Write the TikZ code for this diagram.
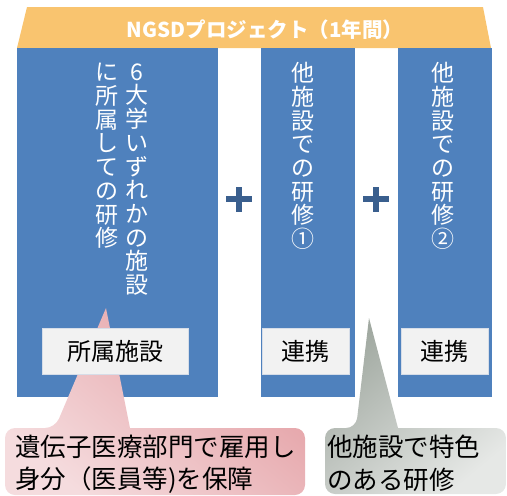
\documentclass[tikz,border=0pt]{standalone}
\usepackage{fontspec}
\setmainfont{Noto Sans CJK JP}
\definecolor{orangeT}{HTML}{F9C46F}
\definecolor{blueB}{HTML}{4F81BD}
\definecolor{plusB}{HTML}{3A5F8E}
\definecolor{lblF}{HTML}{F2F2F2}
\definecolor{lblD}{HTML}{D6DDE8}
\definecolor{pinkL}{HTML}{F5DCDE}
\definecolor{pinkD}{HTML}{E39CA1}
\definecolor{grayD}{HTML}{A1A9A1}
\definecolor{grayL}{HTML}{E6E8E6}
\tikzset{
  vtext/.style={align=center, text=white, inner sep=0pt, font=\fontsize{23}{23.7}\selectfont},
  lbl/.style={fill=lblF, draw=lblD, line width=1pt, inner sep=0pt, font=\fontsize{24}{28}\selectfont},
  ctext/.style={anchor=west, inner sep=0pt, font=\fontsize{25.5}{30}\selectfont},
  titletext/.style={text=white, inner sep=0pt, font=\bfseries\fontsize{20.5}{25}\selectfont},
  bluebox/.style={fill=blueB},
  plussign/.style={fill=plusB}
}
\begin{document}
\begin{tikzpicture}[x=1pt,y=-1pt]
\useasboundingbox (0,0) rectangle (507,496);
% top band
\fill[orangeT] (27,7) -- (483,7) -- (491,48) -- (17,48) -- cycle;
\node[titletext] (title) at (265,30) {NGSDプロジェクト（1年間）};
% blue columns
\path[bluebox] (17,48) rectangle (218,397);
\path[bluebox] (261,48) rectangle (355,397);
\path[bluebox] (398,48) rectangle (492,397);
% vertical texts
\node[vtext] (v1a) at (137,179.5) {6\\大\\学\\い\\ず\\れ\\か\\の\\施\\設};
\node[vtext] (v1b) at (107,156) {に\\所\\属\\し\\て\\の\\研\\修};
\node[vtext] (v2) at (303,156) {他\\施\\設\\で\\の\\研\\修\\①};
\node[vtext] (v3) at (443,156) {他\\施\\設\\で\\の\\研\\修\\②};
% plus signs
\path[plussign] (226,196) rectangle (252,202);
\path[plussign] (236,187) rectangle (242,212);
\path[plussign] (363,196) rectangle (389,202);
\path[plussign] (373,187) rectangle (379,212);
% pink callout
\shade[top color=pinkD, bottom color=pinkL, shading angle=-40]
  (5,461) [rounded corners=10pt] -- (5,428) -- (55,428) [sharp corners] -- (106,308) -- (130,428)
  [rounded corners=10pt] -- (305,428) -- (305,495) -- (5,495) -- cycle;
% gray callout
\shade[top color=grayD, bottom color=grayL, shading angle=40]
  (325,461) [rounded corners=10pt] -- (325,428) -- (356,428) [sharp corners] -- (369,318) -- (398,428)
  [rounded corners=10pt] -- (506,428) -- (506,494) -- (325,494) -- cycle;
% label boxes
\node[lbl, minimum width=146, minimum height=46] (l1) at (115,351) {所属施設};
\node[lbl, minimum width=87, minimum height=46] (l2) at (305.5,351) {連携};
\node[lbl, minimum width=87, minimum height=46] (l3) at (444.5,351) {連携};
% callout texts
\node[ctext] (p1) at (15,447) {遺伝子医療部門で雇用し};
\node[ctext] (p2) at (15,480) {身分（医員等)を保障};
\node[ctext] (g1) at (327,447) {他施設で特色};
\node[ctext] (g2) at (327,480) {のある研修};
\end{tikzpicture}
\end{document}
